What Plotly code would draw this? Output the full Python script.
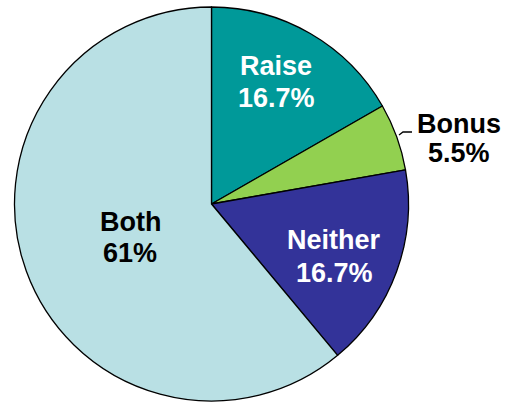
import plotly.graph_objects as go

labels = ["Raise", "Bonus", "Neither", "Both"]
values = [16.7, 5.5, 16.7, 61]
value_text = ["16.7%", "5.5%", "16.7%", "61%"]
colors = ["#009999", "#92D050", "#333399", "#B9E0E4"]
text_colors = ["white", "black", "white", "black"]

W, H = 506, 402
# label positions (pixel coords): (x, y of name line, y of value line)
label_pos = {
    "Raise": (276, 66, 98),
    "Bonus": (459, 124, 153),
    "Neither": (334, 240, 273),
    "Both": (130, 222, 253),
}

fig = go.Figure()
fig.add_trace(go.Pie(
    labels=labels,
    values=values,
    sort=False,
    direction="clockwise",
    rotation=0,
    marker=dict(colors=colors, line=dict(color="black", width=1.3)),
    textinfo="none",
    hoverinfo="label+percent",
    domain=dict(x=[14 / W, 409 / W], y=[1 / H, 395 / H]),
    showlegend=False,
))

font_family = "Arial, Liberation Sans, sans-serif"
for lab, vt, tc in zip(labels, value_text, text_colors):
    x, y1, y2 = label_pos[lab]
    for txt, yy in ((lab, y1), (vt, y2)):
        fig.add_annotation(
            x=x, y=yy, xref="x", yref="y", text="<b>%s</b>" % txt,
            showarrow=False, xanchor="center", yanchor="middle",
            font=dict(family=font_family, size=27, color=tc),
        )

# leader line for Bonus
fig.add_shape(type="path", path="M 399 135 L 403 132 L 412 132",
              xref="x", yref="y", line=dict(color="black", width=1.3))

fig.update_layout(
    width=W, height=H,
    margin=dict(l=0, r=0, t=0, b=0),
    paper_bgcolor="white", plot_bgcolor="rgba(0,0,0,0)",
    xaxis=dict(range=[0, W], visible=False, fixedrange=True),
    yaxis=dict(range=[H, 0], visible=False, fixedrange=True),
)

fig.write_html("out.html", config={"displayModeBar": False},
               post_script="document.body.style.margin='0';document.body.style.overflow='hidden';")
